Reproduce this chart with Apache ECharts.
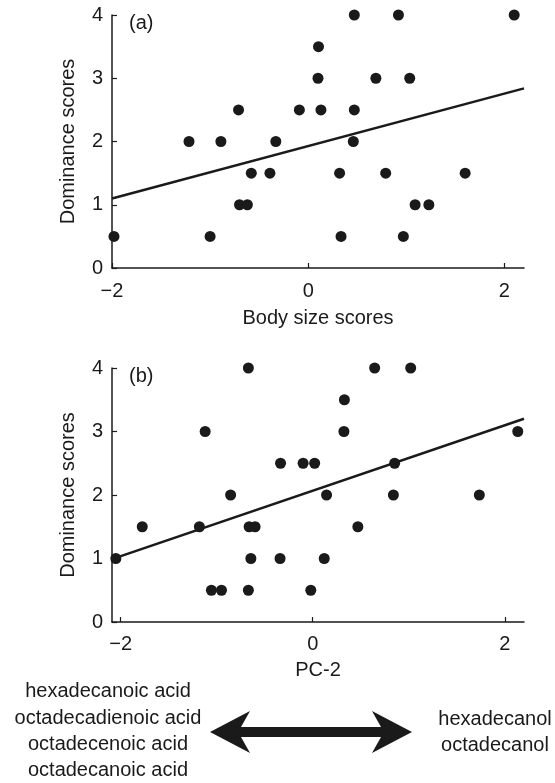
<!DOCTYPE html>
<html>
<head>
<meta charset="utf-8">
<script src="https://cdn.jsdelivr.net/npm/echarts@6/dist/echarts.min.js"></script>
<style>
html,body{margin:0;padding:0;background:#fff;}
#chart{width:555px;height:783px;}
</style>
</head>
<body>
<div id="chart"></div>
<script>
// ---- data ----
const topX = [-1.98,-1.215,-1.0,-0.89,-0.71,-0.70,-0.62,-0.58,-0.39,-0.33,-0.09,0.105,0.10,0.13,0.47,0.92,2.10,0.69,1.035,0.47,0.46,0.32,0.79,1.60,1.09,1.23,0.335,0.97];
const topY = [0.5,2,0.5,2,2.5,1,1,1.5,1.5,2,2.5,3.5,3,2.5,4,4,4,3,3,2.5,2,1.5,1.5,1.5,1,1,0.5,0.5];
const topFitX = [-2.0, 2.2];
const topFitY = [1.10, 2.84];

const botX = [-2.05,-1.775,-1.18,-1.12,-1.055,-0.95,-0.855,-0.67,-0.67,-0.662,-0.60,-0.644,-0.335,-0.34,-0.10,0.02,-0.02,0.144,0.12,0.645,1.02,0.33,0.325,2.135,0.853,0.84,1.735,0.47];
const botY = [1,1.5,1.5,3,0.5,0.5,2,4,0.5,1.5,1.5,1,2.5,1,2.5,2.5,0.5,2,1,4,4,3.5,3,3,2.5,2,2,1.5];
const botFitX = [-2.09, 2.2];
const botFitY = [0.99, 3.20];

const xTicks = [-2, 0, 2];
const yTicks = [0, 1, 2, 3, 4];
const leftLabels = ['hexadecanoic acid','octadecadienoic acid','octadecenoic acid','octadecanoic acid'];
const rightLabels = ['hexadecanol','octadecanol'];

// ---- chart ----
const FONT = "'Liberation Sans', Arial, Helvetica, sans-serif";
const INK = '#1a1a1a';
const pairs = (xs, ys) => xs.map((x, i) => [x, ys[i]]);
const fmt = v => String(v).replace('-', '\u2212');

function xAxis(gi, min, name, gap, margin) {
  return {
    type: 'value', gridIndex: gi, min: min, max: 2.2,
    name: name, nameLocation: 'middle', nameGap: gap,
    nameTextStyle: {fontFamily: FONT, fontSize: 20, color: INK},
    axisLine: {show: true, onZero: false, lineStyle: {color: INK, width: 1.5}},
    axisTick: {show: true, inside: true, length: 5, customValues: xTicks, lineStyle: {color: INK, width: 1.2}},
    axisLabel: {customValues: xTicks, formatter: fmt, fontFamily: FONT, fontSize: 20, color: INK, margin: margin},
    splitLine: {show: false}
  };
}
function yAxis(gi) {
  return {
    type: 'value', gridIndex: gi, min: 0, max: 4, interval: 1,
    name: 'Dominance scores', nameLocation: 'middle', nameGap: 34,
    nameTextStyle: {fontFamily: FONT, fontSize: 20, color: INK},
    axisLine: {show: true, onZero: false, lineStyle: {color: INK, width: 1.5}},
    axisTick: {show: true, inside: true, length: 5, lineStyle: {color: INK, width: 1.2}},
    axisLabel: {customValues: yTicks, fontFamily: FONT, fontSize: 20, color: INK, margin: 9},
    splitLine: {show: false}
  };
}

const chart = echarts.init(document.getElementById('chart'), null, {renderer: 'canvas'});

const c = 732, L = 210, R = 412;
const arrowPts = [[L,c],[L+40,c-21],[L+31,c-5],[R-31,c-5],[R-40,c-21],[R,c],[R-40,c+21],[R-31,c+5],[L+31,c+5],[L+40,c+21]];

const graphics = [
  {type: 'text', left: 129, top: 13, style: {text: '(a)', font: '20px ' + FONT, fill: INK}},
  {type: 'text', left: 129, top: 366, style: {text: '(b)', font: '20px ' + FONT, fill: INK}},
  {type: 'polygon', shape: {points: arrowPts}, style: {fill: INK}}
];
const leftY = [691, 718, 744, 770];
leftLabels.forEach((t, i) => graphics.push({type: 'text', x: 108, y: leftY[i],
  style: {text: t, font: '20px ' + FONT, fill: INK, align: 'center', verticalAlign: 'middle'}}));
const rightY = [719, 745];
rightLabels.forEach((t, i) => graphics.push({type: 'text', x: 495, y: rightY[i],
  style: {text: t, font: '20px ' + FONT, fill: INK, align: 'center', verticalAlign: 'middle'}}));

chart.setOption({
  animation: false,
  backgroundColor: '#fff',
  grid: [
    {left: 112, width: 412, top: 15, height: 253},
    {left: 112, width: 412, top: 368, height: 254}
  ],
  xAxis: [xAxis(0, -2, 'Body size scores', 40, 13), xAxis(1, -2.09, 'PC-2', 38, 12)],
  yAxis: [yAxis(0), yAxis(1)],
  series: [
    {type: 'line', xAxisIndex: 0, yAxisIndex: 0, data: pairs(topFitX, topFitY), symbol: 'none',
      lineStyle: {color: INK, width: 2.5}, z: 2},
    {type: 'scatter', xAxisIndex: 0, yAxisIndex: 0, data: pairs(topX, topY), symbolSize: 11,
      itemStyle: {color: INK, opacity: 1}, clip: false, z: 3},
    {type: 'line', xAxisIndex: 1, yAxisIndex: 1, data: pairs(botFitX, botFitY), symbol: 'none',
      lineStyle: {color: INK, width: 2.5}, z: 2},
    {type: 'scatter', xAxisIndex: 1, yAxisIndex: 1, data: pairs(botX, botY), symbolSize: 11,
      itemStyle: {color: INK, opacity: 1}, clip: false, z: 3}
  ],
  graphic: graphics
});
</script>
</body>
</html>
